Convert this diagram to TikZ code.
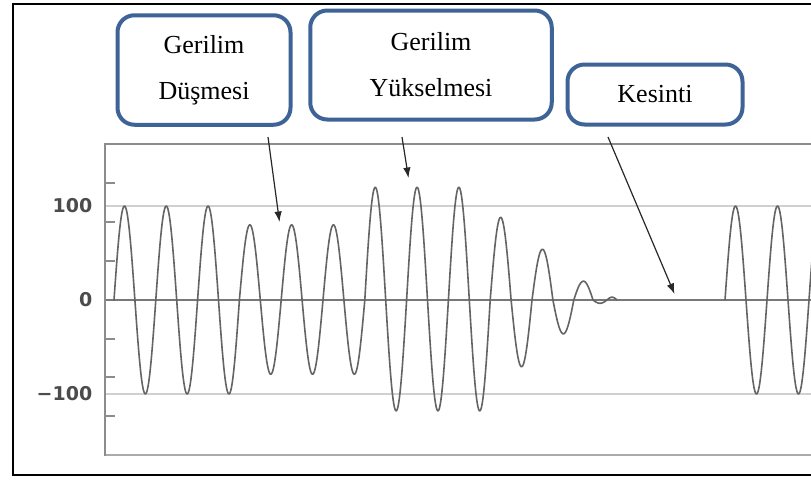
\documentclass[tikz,border=0pt]{standalone}
\usepackage{fontspec}
\setmainfont{Liberation Serif}
\newfontfamily\axisfont{DejaVu Sans}
\usetikzlibrary{arrows.meta}

\definecolor{calloutblue}{RGB}{62,99,150}
\definecolor{axisgray}{RGB}{140,140,140}
\definecolor{bottomgray}{RGB}{170,170,170}
\definecolor{gridgray}{RGB}{208,208,208}
\definecolor{zerogray}{RGB}{120,120,120}
\definecolor{wavegray}{RGB}{100,100,100}
\definecolor{labelgray}{RGB}{75,75,75}
\definecolor{pointergray}{RGB}{40,40,40}

\begin{document}
\begin{tikzpicture}[x=1pt,y=-1pt,
  frame/.style={draw=black, line width=2pt},
  axisline/.style={draw=axisgray, line width=2pt},
  gridline/.style={draw=gridgray, line width=2pt},
  zeroline/.style={draw=zerogray, line width=2pt},
  wave/.style={draw=wavegray, line width=1.6pt, line join=round, line cap=round},
  callout/.style={draw=calloutblue, line width=4pt, rounded corners=17pt,
    fill=white, align=center, inner sep=0pt,
    font=\fontsize{26}{46}\selectfont},
  pointer/.style={draw=pointergray, line width=1.2pt,
    -{Latex[length=10.5pt,width=7.5pt]}},
  axislabel/.style={font=\axisfont\bfseries\fontsize{19}{19}\selectfont,
    text=labelgray, anchor=east, inner sep=0pt}
]
\useasboundingbox (0,0) rectangle (811,480);
\clip (0,0) rectangle (811,480);
\fill[white] (0,0) rectangle (811,480);

% plot area: grid, zero line, frame lines and ticks
\draw[gridline] (105,206) -- (830,206);
\draw[gridline] (105,394) -- (830,394);
\draw[zeroline] (105,300) -- (830,300);
\draw[axisline] (105,144) -- (830,144);
\draw[draw=bottomgray, line width=2pt] (105,455.2) -- (830,455.2);
\draw[axisline] (105,143) -- (105,456.2);
\foreach \ty in {182.9,221.8,260.7,338.5,377.4,416.3}
  \draw[axisline] (105,\ty) -- (115,\ty);

% axis labels
\node[axislabel] (l100) at (92.5,205.5) {100};
\node[axislabel] (l0) at (92.5,299.5) {0};
\node[axislabel] (lm100) at (92.5,393.5) {−100};

% voltage waveform: one half-wave per entry (start, end, amplitude)
\draw[wave] (114,300)
  foreach \xa/\xb/\am in {
    114/134.9/100, 134.9/155.8/-100, 155.8/176.7/100, 176.7/197.6/-100,
    197.6/218.5/100, 218.5/239.4/-100,
    239.4/260.3/80, 260.3/281.2/-79, 281.2/302.1/80, 302.1/323.0/-79,
    323.0/343.9/80, 343.9/364.8/-79,
    364.8/385.7/120, 385.7/406.6/-118, 406.6/427.5/120, 427.5/448.4/-118,
    448.4/469.3/120, 469.3/490.2/-118,
    490.2/511.1/88, 511.1/532.0/-71, 532.0/552.9/54, 552.9/573.8/-36,
    573.8/593/20, 593/607/-3.5, 607/617/3}
  { -- plot[domain=0:180, samples=30]
      ({\xa+(\xb-\xa)*\x/180},{300-0.94*\am*sin(\x)}) };

% supply restored after the interruption
\draw[wave] (725,300)
  foreach \xa/\xb/\am in {
    725/746/100, 746/767/-100, 767/788/100, 788/809/-100, 809/830/100}
  { -- plot[domain=0:180, samples=30]
      ({\xa+(\xb-\xa)*\x/180},{300-0.94*\am*sin(\x)}) };

% callout boxes
\node[callout, minimum width=173pt, minimum height=109.5pt] (drop)
  at (204,70) {\raisebox{-2pt}{Gerilim}\\\raisebox{-2pt}{Düşmesi}};
\node[callout, minimum width=241.5pt, minimum height=109pt] (rise)
  at (431,65) {Gerilim\\Yükselmesi};
\node[callout, minimum width=175pt, minimum height=60pt] (cut)
  at (655,94.5) {\raisebox{2pt}{Kesinti}};

% pointers into the waveform
\coordinate (p1a) at (268,137);
\coordinate (p1b) at (279.5,222);
\coordinate (p2a) at (402,137);
\coordinate (p2b) at (408.5,178);
\coordinate (p3a) at (608,137);
\coordinate (p3b) at (674.5,294);
\draw[pointer] (p1a) -- (p1b);
\draw[pointer] (p2a) -- (p2b);
\draw[pointer] (p3a) -- (p3b);

% outer frame
\draw[frame] (12.8,3.5) rectangle (840,474.5);
\end{tikzpicture}
\end{document}
